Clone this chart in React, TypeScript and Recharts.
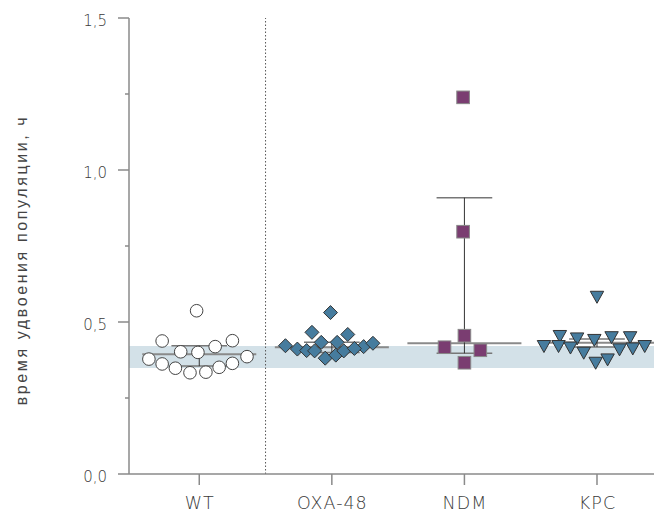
import React from 'react';
import { ScatterChart, Scatter, XAxis, YAxis, ReferenceArea, ReferenceLine } from 'recharts';

// ---------- data ----------
const categories = ['WT', 'OXA-48', 'NDM', 'KPC'];
const yTicks = [0, 0.25, 0.5, 0.75, 1, 1.25, 1.5];

const wtValues = [0.537, 0.4375, 0.402, 0.4, 0.419, 0.4385, 0.378, 0.362, 0.348, 0.333, 0.335, 0.351, 0.364, 0.386];
const wtJitter = [-0.02, -0.28, -0.14, -0.01, 0.12, 0.25, -0.38, -0.28, -0.18, -0.07, 0.05, 0.15, 0.25, 0.36];

const oxaValues = [0.531, 0.466, 0.459, 0.422, 0.411, 0.406, 0.405, 0.433, 0.433, 0.419, 0.43, 0.381, 0.391, 0.405, 0.413];
const oxaJitter = [-0.01, -0.15, 0.12, -0.35, -0.26, -0.19, -0.13, -0.08, 0.04, 0.24, 0.31, -0.05, 0.03, 0.09, 0.17];

const ndmValues = [1.239, 0.797, 0.455, 0.417, 0.407, 0.366];
const ndmJitter = [-0.01, -0.01, 0, -0.15, 0.12, 0];

const kpcValues = [0.583, 0.454, 0.446, 0.441, 0.45, 0.45, 0.421, 0.421, 0.416, 0.399, 0.41, 0.413, 0.421, 0.366, 0.377];
const kpcJitter = [0, -0.28, -0.15, -0.02, 0.11, 0.25, -0.4, -0.29, -0.2, -0.1, 0.17, 0.27, 0.36, -0.01, 0.08];

const groupCenter = [0.394, 0.417, 0.43, 0.432];
const groupUpper = [0.422, 0.433, 0.909, 0.444];
const groupLower = [0.355, 0.4, 0.397, 0.418];

const referenceBand = [0.349, 0.421];

const yLabel = 'время удвоения популяции, ч';

// ---------- helpers ----------
const toPoints = (idx: number, values: number[], jitter: number[]) =>
  values.map((v, i) => ({ x: idx + jitter[i], y: v }));

const wtData = toPoints(0, wtValues, wtJitter);
const oxaData = toPoints(1, oxaValues, oxaJitter);
const ndmData = toPoints(2, ndmValues, ndmJitter);
const kpcData = toPoints(3, kpcValues, kpcJitter);

const BLUE = '#467c9e';
const PURPLE = '#7a3d71';
const AXIS = '#8a8a8a';
const TEXT = '#3a3a3a';
const FONT = '"DejaVu Sans", sans-serif';

const CircleShape = (p: any) => (
  <circle cx={p.cx} cy={p.cy} r={6.3} fill="#fff" stroke="#444" strokeWidth={1} />
);
const DiamondShape = (p: any) => {
  const { cx, cy } = p;
  const s = 7;
  return (
    <polygon
      points={`${cx},${cy - s} ${cx + s},${cy} ${cx},${cy + s} ${cx - s},${cy}`}
      fill={BLUE}
      stroke="#333"
      strokeWidth={1}
    />
  );
};
const SquareShape = (p: any) => (
  <rect x={p.cx - 6.3} y={p.cy - 6.3} width={12.6} height={12.6} fill={PURPLE} stroke="#888" strokeWidth={1} />
);
const TriangleShape = (p: any) => {
  const { cx, cy } = p;
  return (
    <polygon
      points={`${cx - 6.7},${cy - 5.5} ${cx + 6.7},${cy - 5.5} ${cx},${cy + 6.5}`}
      fill={BLUE}
      stroke="#333"
      strokeWidth={1}
    />
  );
};

const XTick = (props: any) => {
  const { x, y, payload } = props;
  return (
    <g>
      <line x1={x} y1={y} x2={x} y2={y + 11} stroke={AXIS} strokeWidth={1.5} />
      <text
        x={x + 0.5}
        y={y + 35}
        textAnchor="middle"
        fontSize={17.5}
        fill={TEXT}
        letterSpacing={1}
        fontFamily={FONT}
        fontWeight={300}
      >
        {categories[payload.value]}
      </text>
    </g>
  );
};

const YTick = (props: any) => {
  const { x, y, payload } = props;
  const v = payload.value as number;
  const major = Math.abs(v * 2 - Math.round(v * 2)) < 1e-6;
  return (
    <g>
      <line x1={x - (major ? 11 : 4)} y1={y} x2={x} y2={y} stroke={AXIS} strokeWidth={1.5} />
      {major && (
        <text
          x={x - 22}
          y={y + 3}
          dy="0.35em"
          textAnchor="end"
          fontSize={15}
          fill={TEXT}
          fontFamily={FONT}
          fontWeight={300}
        >
          {v.toFixed(1).replace('.', ',')}
        </text>
      )}
    </g>
  );
};

const YLabel = () => (
  <text
    x={21}
    y={260}
    transform="rotate(-90 21 260)"
    textAnchor="middle"
    dominantBaseline="central"
    fontSize={16}
    letterSpacing={2.6}
    fill="#444"
    fontFamily='"Liberation Sans", Arial, sans-serif'
  >
    {yLabel}
  </text>
);

const MEAN_HALF = 0.43;
const CAP_HALF = 0.21;

export default function App() {
  return (
    <div style={{ position: 'absolute', left: 0, top: 0, width: 654, height: 513, background: '#fff' }}>
      <ScatterChart width={654} height={513} margin={{ top: 18, right: 0, left: 0, bottom: 0 }}>
        <XAxis
          type="number"
          dataKey="x"
          domain={[-0.53, 3.43]}
          ticks={[0, 1, 2, 3]}
          allowDataOverflow
          height={39}
          tickLine={false}
          tickSize={0}
          tickMargin={0}
          tick={<XTick />}
          axisLine={{ stroke: AXIS, strokeWidth: 1.5 }}
        />
        <YAxis
          type="number"
          dataKey="y"
          domain={[0, 1.5]}
          ticks={yTicks}
          width={129}
          tickLine={false}
          tickSize={0}
          tickMargin={0}
          tick={<YTick />}
          axisLine={{ stroke: AXIS, strokeWidth: 1.5 }}
          label={<YLabel />}
        />
        <ReferenceArea
          y1={referenceBand[0]}
          y2={referenceBand[1]}
          fill="#d3e1e8"
          fillOpacity={1}
          stroke="none"
          ifOverflow="visible"
        />
        <ReferenceLine x={0.5} stroke="#555" strokeDasharray="1.5 2" strokeWidth={1} />
        {categories.map((c, i) => (
          <ReferenceLine
            key={'m' + c}
            segment={[
              { x: i - MEAN_HALF, y: groupCenter[i] },
              { x: i + MEAN_HALF, y: groupCenter[i] },
            ]}
            stroke="#8a8a8a"
            strokeWidth={2}
            ifOverflow="visible"
          />
        ))}
        {categories.map((c, i) => (
          <ReferenceLine
            key={'u' + c}
            segment={[
              { x: i - CAP_HALF, y: groupUpper[i] },
              { x: i + CAP_HALF, y: groupUpper[i] },
            ]}
            stroke="#777"
            strokeWidth={1.5}
            ifOverflow="visible"
          />
        ))}
        {categories.map((c, i) => (
          <ReferenceLine
            key={'l' + c}
            segment={[
              { x: i - CAP_HALF, y: groupLower[i] },
              { x: i + CAP_HALF, y: groupLower[i] },
            ]}
            stroke="#777"
            strokeWidth={1.5}
            ifOverflow="visible"
          />
        ))}
        {categories.map((c, i) => (
          <ReferenceLine
            key={'v' + c}
            segment={[
              { x: i, y: groupLower[i] },
              { x: i, y: groupUpper[i] },
            ]}
            stroke="#333"
            strokeWidth={1}
            ifOverflow="visible"
          />
        ))}
        <Scatter data={wtData} shape={CircleShape} isAnimationActive={false} />
        <Scatter data={oxaData} shape={DiamondShape} isAnimationActive={false} />
        <Scatter data={ndmData} shape={SquareShape} isAnimationActive={false} />
        <Scatter data={kpcData} shape={TriangleShape} isAnimationActive={false} />
      </ScatterChart>
    </div>
  );
}
